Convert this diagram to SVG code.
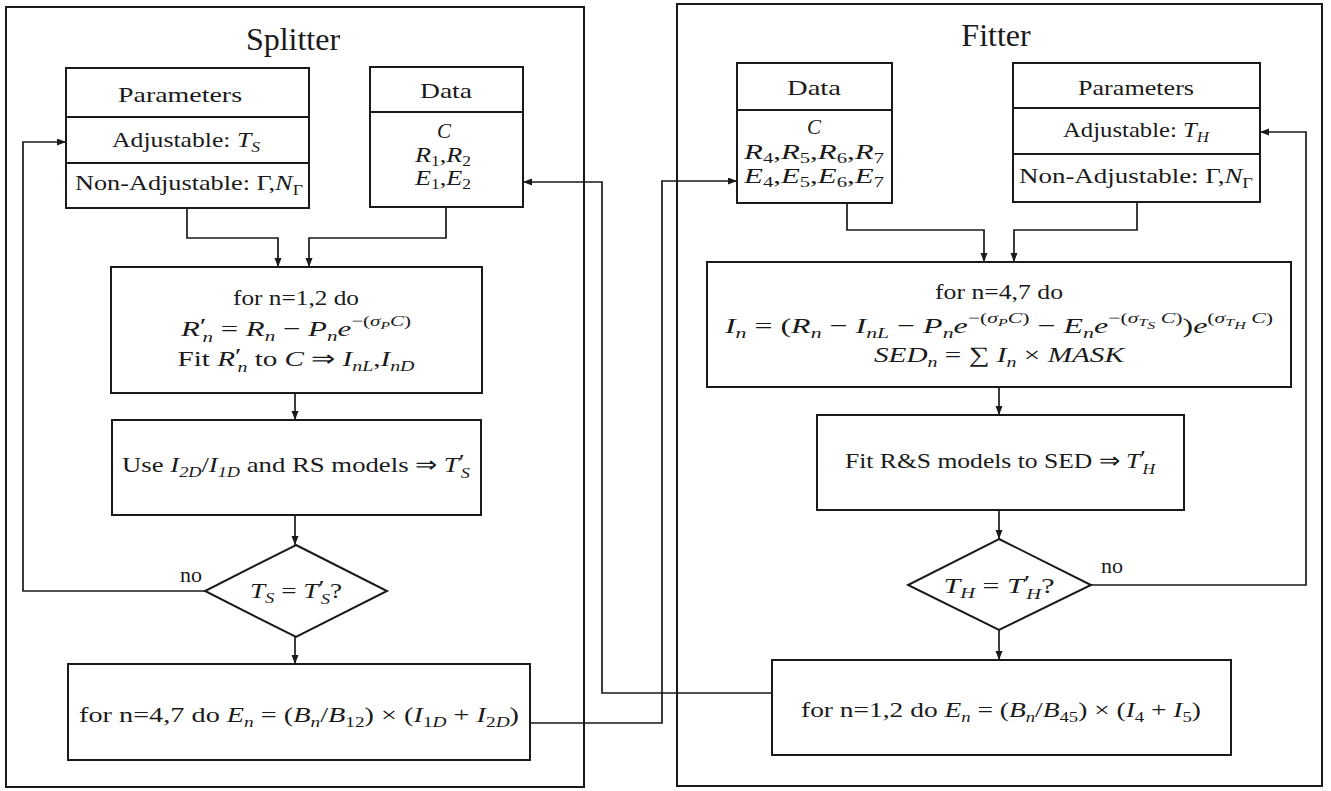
<svg xmlns="http://www.w3.org/2000/svg" width="1331" height="791" viewBox="0 0 1331 791">
<defs>
<style>
.frame{fill:none;stroke:#1a1a1a;stroke-width:2}
.box{fill:#fff;stroke:#1a1a1a;stroke-width:2}
.div{stroke:#1a1a1a;stroke-width:2}
.con{fill:none;stroke:#1a1a1a;stroke-width:1.7}
.tx{font-family:"Liberation Serif","Times New Roman",serif;font-size:22px;fill:#1a1a1a;text-anchor:middle}
.dr{font-size:21px}
.ttl{font-size:32px}
.i{font-style:italic}
.sb{font-size:15px}
.sd{font-size:14px}
.ss{font-size:11px}
</style>
<marker id="ah" markerWidth="10" markerHeight="8" refX="9" refY="3.5" orient="auto" markerUnits="userSpaceOnUse">
<path d="M0,0 L9,3.5 L0,7 z" fill="#1a1a1a"/>
</marker>
</defs>
<rect width="1331" height="791" fill="#fff"/>

<g id="splitter-frame">
<rect class="frame" x="6" y="7" width="578" height="780"/>
<text class="tx ttl" x="293" y="50">Splitter</text>
</g>
<g id="fitter-frame">
<rect class="frame" x="677" y="4" width="645" height="782"/>
<text class="tx ttl" x="996" y="46">Fitter</text>
</g>

<g id="connectors">
<polyline class="con" points="187,208 187,238 278,238 278,267" marker-end="url(#ah)"/>
<polyline class="con" points="446,207 446,238 309,238 309,267" marker-end="url(#ah)"/>
<line class="con" x1="295" y1="393" x2="295" y2="420" marker-end="url(#ah)"/>
<line class="con" x1="295" y1="515" x2="295" y2="545" marker-end="url(#ah)"/>
<line class="con" x1="295" y1="637" x2="295" y2="664" marker-end="url(#ah)"/>
<polyline class="con" points="205,591 23,591 23,142 66,142" marker-end="url(#ah)"/>
<polyline class="con" points="530,723 662,723 662,181 737,181" marker-end="url(#ah)"/>
<polyline class="con" points="847,203 847,230 984,230 984,262" marker-end="url(#ah)"/>
<polyline class="con" points="1137,202 1137,230 1014,230 1014,262" marker-end="url(#ah)"/>
<line class="con" x1="999" y1="387" x2="999" y2="415" marker-end="url(#ah)"/>
<line class="con" x1="999" y1="510" x2="999" y2="539" marker-end="url(#ah)"/>
<line class="con" x1="999" y1="630" x2="999" y2="660" marker-end="url(#ah)"/>
<polyline class="con" points="1091,585 1306,585 1306,132 1260,132" marker-end="url(#ah)"/>
<polyline class="con" points="772,693 602,693 602,182 523,182" marker-end="url(#ah)"/>
<text class="tx" x="191" y="582">no</text>
<text class="tx" x="1112" y="573">no</text>
</g>

<g id="s-params">
<rect class="box" x="66" y="68" width="243" height="140"/>
<line class="div" x1="66" y1="117" x2="309" y2="117"/>
<line class="div" x1="66" y1="163" x2="309" y2="163"/>
<text class="tx" x="180" y="102" textLength="124" lengthAdjust="spacingAndGlyphs">Parameters</text>
<text class="tx" x="186" y="147" textLength="148" lengthAdjust="spacingAndGlyphs">Adjustable: <tspan class="i">T</tspan><tspan class="sb i" dy="5">S</tspan></text>
<text class="tx" x="189" y="190" textLength="228" lengthAdjust="spacingAndGlyphs">Non-Adjustable: Γ,<tspan class="i">N</tspan><tspan class="sb" dy="5">Γ</tspan></text>
</g>

<g id="s-data">
<rect class="box" x="370" y="67" width="153" height="140"/>
<line class="div" x1="370" y1="112" x2="523" y2="112"/>
<text class="tx" x="446" y="98" textLength="52" lengthAdjust="spacingAndGlyphs">Data</text>
<text class="tx dr i" x="444" y="138">C</text>
<text class="tx dr" x="443" y="162" textLength="56" lengthAdjust="spacingAndGlyphs"><tspan class="i">R</tspan><tspan class="sd" dy="4">1</tspan><tspan dy="-4">,</tspan><tspan class="i">R</tspan><tspan class="sd" dy="4">2</tspan></text>
<text class="tx dr" x="443" y="185" textLength="56" lengthAdjust="spacingAndGlyphs"><tspan class="i">E</tspan><tspan class="sd" dy="4">1</tspan><tspan dy="-4">,</tspan><tspan class="i">E</tspan><tspan class="sd" dy="4">2</tspan></text>
</g>

<g id="s-loop">
<rect class="box" x="111" y="267" width="371" height="126"/>
<text class="tx" x="296" y="305" textLength="126" lengthAdjust="spacingAndGlyphs">for n=1,2 do</text>
<text class="tx" x="296" y="336" textLength="230" lengthAdjust="spacingAndGlyphs"><tspan class="i">R</tspan><tspan dy="-3">′</tspan><tspan class="sb i" dx="-3" dy="9">n</tspan><tspan dy="-6"> = </tspan><tspan class="i">R</tspan><tspan class="sb i" dy="5">n</tspan><tspan dy="-5"> − </tspan><tspan class="i">P</tspan><tspan class="sb i" dy="5">n</tspan><tspan class="i" dy="-5">e</tspan><tspan class="sb" dy="-10">−(</tspan><tspan class="sb i">σ</tspan><tspan class="ss i" dy="3">P</tspan><tspan class="sb i" dy="-3">C</tspan><tspan class="sb">)</tspan></text>
<text class="tx" x="296" y="366" textLength="237" lengthAdjust="spacingAndGlyphs">Fit <tspan class="i">R</tspan><tspan dy="-3">′</tspan><tspan class="sb i" dx="-3" dy="9">n</tspan><tspan dy="-6"> to </tspan><tspan class="i">C</tspan> ⇒ <tspan class="i">I</tspan><tspan class="sb i" dy="5">nL</tspan><tspan dy="-5">,</tspan><tspan class="i">I</tspan><tspan class="sb i" dy="5">nD</tspan></text>
</g>

<g id="s-use">
<rect class="box" x="112" y="420" width="369" height="95"/>
<text class="tx" x="296" y="472" textLength="348" lengthAdjust="spacingAndGlyphs">Use <tspan class="i">I</tspan><tspan class="sb i" dy="5">2D</tspan><tspan dy="-5">/</tspan><tspan class="i">I</tspan><tspan class="sb i" dy="5">1D</tspan><tspan dy="-5"> and RS models ⇒ </tspan><tspan class="i">T</tspan><tspan dy="-3">′</tspan><tspan class="sb i" dx="-3" dy="9">S</tspan></text>
</g>

<g id="s-check">
<polygon class="box" points="296,545 387,591 296,637 205,591"/>
<text class="tx" x="296" y="598" textLength="92" lengthAdjust="spacingAndGlyphs"><tspan class="i">T</tspan><tspan class="sb i" dy="5">S</tspan><tspan dy="-5"> = </tspan><tspan class="i">T</tspan><tspan dy="-3">′</tspan><tspan class="sb i" dx="-3" dy="9">S</tspan><tspan dy="-6">?</tspan></text>
</g>

<g id="s-out">
<rect class="box" x="68" y="664" width="462" height="96"/>
<text class="tx" x="299" y="722" textLength="440" lengthAdjust="spacingAndGlyphs">for n=4,7 do <tspan class="i">E</tspan><tspan class="sb i" dy="5">n</tspan><tspan dy="-5"> = (</tspan><tspan class="i">B</tspan><tspan class="sb i" dy="5">n</tspan><tspan dy="-5">/</tspan><tspan class="i">B</tspan><tspan class="sb" dy="5">12</tspan><tspan dy="-5">) × (</tspan><tspan class="i">I</tspan><tspan class="sb" dy="5">1<tspan class="i">D</tspan></tspan><tspan dy="-5"> + </tspan><tspan class="i">I</tspan><tspan class="sb" dy="5">2<tspan class="i">D</tspan></tspan><tspan dy="-5">)</tspan></text>
</g>

<g id="f-data">
<rect class="box" x="737" y="63" width="155" height="140"/>
<line class="div" x1="737" y1="110" x2="892" y2="110"/>
<text class="tx" x="814" y="95" textLength="54" lengthAdjust="spacingAndGlyphs">Data</text>
<text class="tx dr i" x="814" y="134">C</text>
<text class="tx dr" x="814" y="159" textLength="140" lengthAdjust="spacingAndGlyphs"><tspan class="i">R</tspan><tspan class="sd" dy="4">4</tspan><tspan dy="-4">,</tspan><tspan class="i">R</tspan><tspan class="sd" dy="4">5</tspan><tspan dy="-4">,</tspan><tspan class="i">R</tspan><tspan class="sd" dy="4">6</tspan><tspan dy="-4">,</tspan><tspan class="i">R</tspan><tspan class="sd" dy="4">7</tspan></text>
<text class="tx dr" x="814" y="183" textLength="140" lengthAdjust="spacingAndGlyphs"><tspan class="i">E</tspan><tspan class="sd" dy="4">4</tspan><tspan dy="-4">,</tspan><tspan class="i">E</tspan><tspan class="sd" dy="4">5</tspan><tspan dy="-4">,</tspan><tspan class="i">E</tspan><tspan class="sd" dy="4">6</tspan><tspan dy="-4">,</tspan><tspan class="i">E</tspan><tspan class="sd" dy="4">7</tspan></text>
</g>

<g id="f-params">
<rect class="box" x="1013" y="63" width="247" height="139"/>
<line class="div" x1="1013" y1="108" x2="1260" y2="108"/>
<line class="div" x1="1013" y1="154" x2="1260" y2="154"/>
<text class="tx" x="1136" y="95" textLength="116" lengthAdjust="spacingAndGlyphs">Parameters</text>
<text class="tx" x="1136" y="137" textLength="146" lengthAdjust="spacingAndGlyphs">Adjustable: <tspan class="i">T</tspan><tspan class="sb i" dy="5">H</tspan></text>
<text class="tx" x="1136" y="183" textLength="234" lengthAdjust="spacingAndGlyphs">Non-Adjustable: Γ,<tspan class="i">N</tspan><tspan class="sb" dy="5">Γ</tspan></text>
</g>

<g id="f-loop">
<rect class="box" x="707" y="262" width="584" height="125"/>
<text class="tx" x="999" y="299" textLength="128" lengthAdjust="spacingAndGlyphs">for n=4,7 do</text>
<text class="tx" x="999" y="333" textLength="548" lengthAdjust="spacingAndGlyphs"><tspan class="i">I</tspan><tspan class="sb i" dy="5">n</tspan><tspan dy="-5"> = (</tspan><tspan class="i">R</tspan><tspan class="sb i" dy="5">n</tspan><tspan dy="-5"> − </tspan><tspan class="i">I</tspan><tspan class="sb i" dy="5">nL</tspan><tspan dy="-5"> − </tspan><tspan class="i">P</tspan><tspan class="sb i" dy="5">n</tspan><tspan class="i" dy="-5">e</tspan><tspan class="sb" dy="-10">−(</tspan><tspan class="sb i">σ</tspan><tspan class="ss i" dy="3">P</tspan><tspan class="sb i" dy="-3">C</tspan><tspan class="sb">)</tspan><tspan dy="10"> − </tspan><tspan class="i">E</tspan><tspan class="sb i" dy="5">n</tspan><tspan class="i" dy="-5">e</tspan><tspan class="sb" dy="-10">−(</tspan><tspan class="sb i">σ</tspan><tspan class="ss i" dy="3">T</tspan><tspan class="ss i" dy="3" font-size="9">S</tspan><tspan class="sb i" dy="-6"> C</tspan><tspan class="sb">)</tspan><tspan dy="10">)</tspan><tspan class="i">e</tspan><tspan class="sb" dy="-10">(</tspan><tspan class="sb i">σ</tspan><tspan class="ss i" dy="3">T</tspan><tspan class="ss i" dy="3" font-size="9">H</tspan><tspan class="sb i" dy="-6"> C</tspan><tspan class="sb">)</tspan></text>
<text class="tx" x="999" y="362" textLength="250" lengthAdjust="spacingAndGlyphs"><tspan class="i">SED</tspan><tspan class="sb i" dy="5">n</tspan><tspan dy="-5"> = ∑ </tspan><tspan class="i">I</tspan><tspan class="sb i" dy="5">n</tspan><tspan dy="-5"> × </tspan><tspan class="i">MASK</tspan></text>
</g>

<g id="f-fit">
<rect class="box" x="817" y="415" width="367" height="95"/>
<text class="tx" x="1000" y="468" textLength="310" lengthAdjust="spacingAndGlyphs">Fit R&amp;S models to SED ⇒ <tspan class="i">T</tspan><tspan dy="-3">′</tspan><tspan class="sb i" dx="-3" dy="9">H</tspan></text>
</g>

<g id="f-check">
<polygon class="box" points="999,539 1091,585 999,630 908,585"/>
<text class="tx" x="999" y="593" textLength="111" lengthAdjust="spacingAndGlyphs"><tspan class="i">T</tspan><tspan class="sb i" dy="5">H</tspan><tspan dy="-5"> = </tspan><tspan class="i">T</tspan><tspan dy="-3">′</tspan><tspan class="sb i" dx="-3" dy="9">H</tspan><tspan dy="-6">?</tspan></text>
</g>

<g id="f-out">
<rect class="box" x="772" y="660" width="459" height="95"/>
<text class="tx" x="1001" y="717" textLength="400" lengthAdjust="spacingAndGlyphs">for n=1,2 do <tspan class="i">E</tspan><tspan class="sb i" dy="5">n</tspan><tspan dy="-5"> = (</tspan><tspan class="i">B</tspan><tspan class="sb i" dy="5">n</tspan><tspan dy="-5">/</tspan><tspan class="i">B</tspan><tspan class="sb" dy="5">45</tspan><tspan dy="-5">) × (</tspan><tspan class="i">I</tspan><tspan class="sb" dy="5">4</tspan><tspan dy="-5"> + </tspan><tspan class="i">I</tspan><tspan class="sb" dy="5">5</tspan><tspan dy="-5">)</tspan></text>
</g>
</svg>
